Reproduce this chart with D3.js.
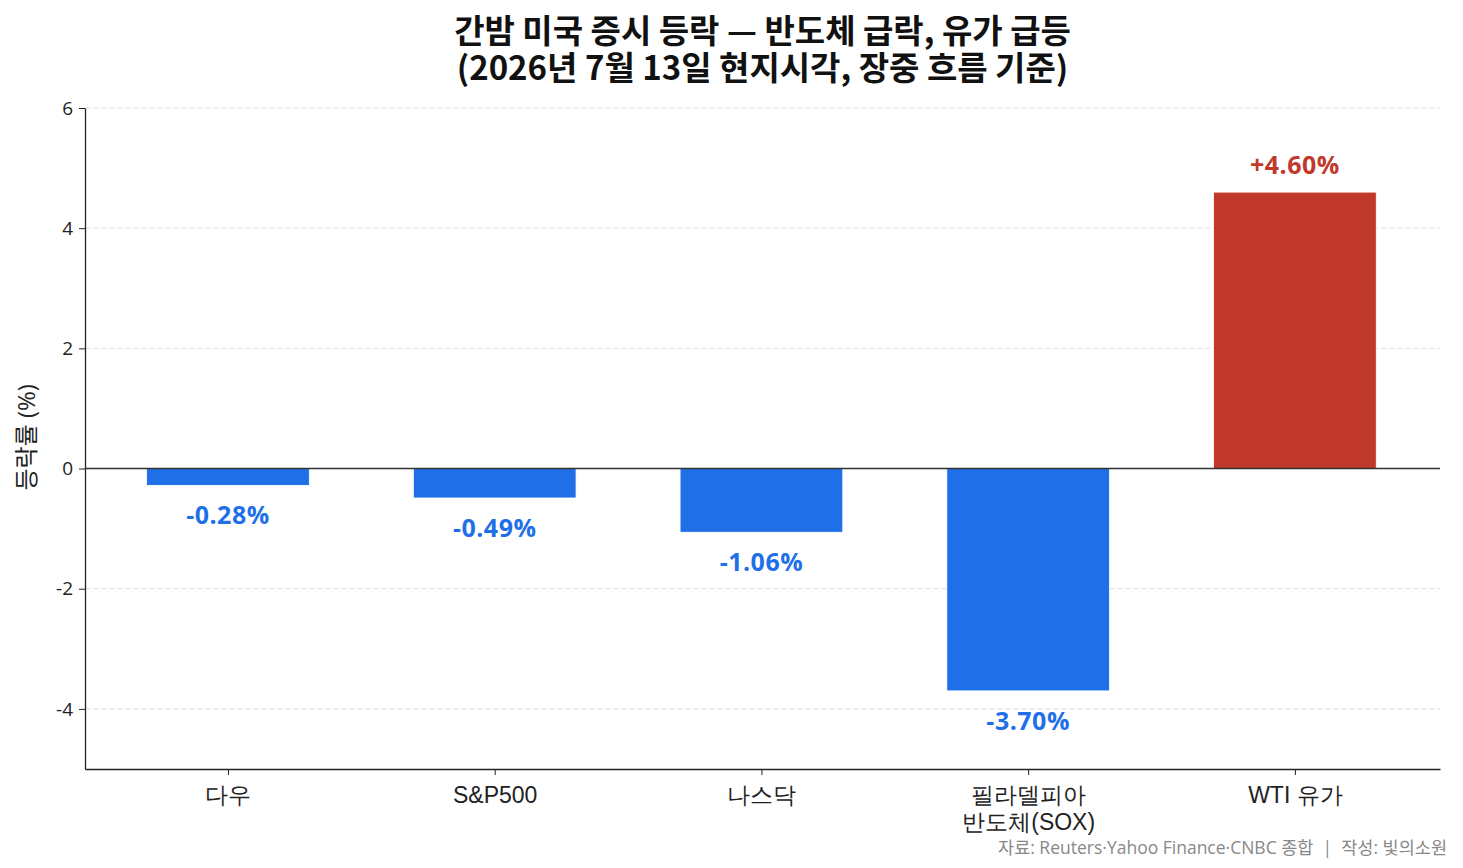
<!DOCTYPE html>
<html>
<head>
<meta charset="utf-8">
<script src="https://cdn.jsdelivr.net/npm/d3@7"></script>
<style>
  body { margin: 0; background: #fff; }
  svg { font-family: "Open Sans", "Noto Sans CJK KR", sans-serif; }
</style>
</head>
<body>
<div id="chart"></div>
<script>
const categories = ["다우", "S&P500", "나스닥", "필라델피아\n반도체(SOX)", "WTI 유가"];
const values = [-0.28, -0.49, -1.06, -3.70, 4.60];
const yTicks = [-4, -2, 0, 2, 4, 6];
const titleLines = ["간밤 미국 증시 등락 — 반도체 급락, 유가 급등", "(2026년 7월 13일 현지시각, 장중 흐름 기준)"];
const sourceText = "자료: Reuters·Yahoo Finance·CNBC 종합  |  작성: 빛의소원";

const width = 1463, height = 868;
const margin = { top: 108, right: 23, bottom: 99, left: 85 };
const upColor = "#c0392b";
const downColor = "#1f70e8";

const svg = d3.select("#chart").append("svg")
    .attr("width", width)
    .attr("height", height);

const innerW = width - margin.left - margin.right;
const innerH = height - margin.top - margin.bottom;
const g = svg.append("g").attr("transform", `translate(${margin.left},${margin.top})`);

const x = d3.scaleLinear().domain([-0.536, categories.length - 1 + 0.544]).range([0, innerW]);
const barW = x(0.305) - x(-0.305);
const y = d3.scaleLinear().domain([-5, 6]).range([innerH, 0]);

// grid
g.selectAll(".grid").data(yTicks.filter(d => d !== 0)).enter()
    .append("line")
    .attr("x1", 0).attr("x2", innerW)
    .attr("y1", d => y(d)).attr("y2", d => y(d))
    .attr("stroke", "#dddddd")
    .attr("stroke-dasharray", "5,3")
    .attr("stroke-width", 1);

// bars
g.selectAll(".bar").data(values).enter()
    .append("rect")
    .attr("x", (d, i) => x(i) - barW / 2)
    .attr("y", d => y(Math.max(0, d)))
    .attr("width", barW)
    .attr("height", d => Math.abs(y(d) - y(0)))
    .attr("fill", d => d >= 0 ? upColor : downColor)
    .attr("stroke", "#fff")
    .attr("stroke-width", 0.8);

// zero line
g.append("line")
    .attr("x1", 0).attr("x2", innerW)
    .attr("y1", y(0)).attr("y2", y(0))
    .attr("stroke", "#333")
    .attr("stroke-width", 1.5);

// value labels
g.selectAll(".val").data(values).enter()
    .append("text")
    .attr("x", (d, i) => x(i))
    .attr("y", d => d >= 0 ? y(d) - 27 : y(d) + 30)
    .attr("dy", "0.35em")
    .attr("text-anchor", "middle")
    .attr("font-size", "25px")
    .attr("font-weight", "bold")
    .attr("letter-spacing", "0.5px")
    .attr("fill", d => d >= 0 ? upColor : downColor)
    .text(d => (d >= 0 ? "+" : "") + d.toFixed(2) + "%");

// y axis
const yAxis = g.append("g")
    .call(d3.axisLeft(y).tickValues(yTicks).tickSize(6).tickSizeOuter(0).tickPadding(6)
        .tickFormat(d => String(d)));
yAxis.select(".domain").attr("stroke", "#222").attr("stroke-width", 1.3);
yAxis.selectAll(".tick line").attr("stroke", "#222");
yAxis.selectAll(".tick text").attr("font-size", "19px").attr("fill", "#222")
    .style("font-family", '"Open Sans", sans-serif');

// x axis
const xAxis = g.append("g")
    .attr("transform", `translate(0,${innerH})`)
    .call(d3.axisBottom(x).tickValues(d3.range(categories.length)).tickSize(6).tickSizeOuter(0).tickFormat(""));
xAxis.select(".domain").attr("stroke", "#222").attr("stroke-width", 1.3);
xAxis.selectAll(".tick line").attr("stroke", "#222");
xAxis.selectAll(".tick").each(function(d, i) {
    const t = d3.select(this).append("text")
        .attr("fill", "#222")
        .attr("font-size", "23px")
        .attr("text-anchor", "middle");
    categories[i].split("\n").forEach((line, k) => {
        t.append("tspan").attr("x", 0).attr("y", 34 + k * 27).text(line);
    });
});

// y label
svg.append("text")
    .attr("transform", `translate(35,${margin.top + y(0.52)}) rotate(-90)`)
    .attr("text-anchor", "middle")
    .attr("font-size", "24px")
    .attr("fill", "#222")
    .text("등락률 (%)");

// title
const title = svg.append("text")
    .attr("text-anchor", "middle")
    .attr("font-size", "33px")
    .attr("font-weight", "bold")
    .attr("fill", "#111")
    .style("font-family", '"Noto Sans CJK KR", sans-serif');
titleLines.forEach((line, k) => {
    title.append("tspan").attr("x", margin.left + innerW / 2).attr("y", 43 + k * 37).text(line);
});

// source
svg.append("text")
    .attr("x", width - 16)
    .attr("y", 854)
    .attr("text-anchor", "end")
    .attr("font-size", "17.5px")
    .attr("fill", "#888")
    .style("white-space", "pre")
    .text(sourceText);
</script>
</body>
</html>
